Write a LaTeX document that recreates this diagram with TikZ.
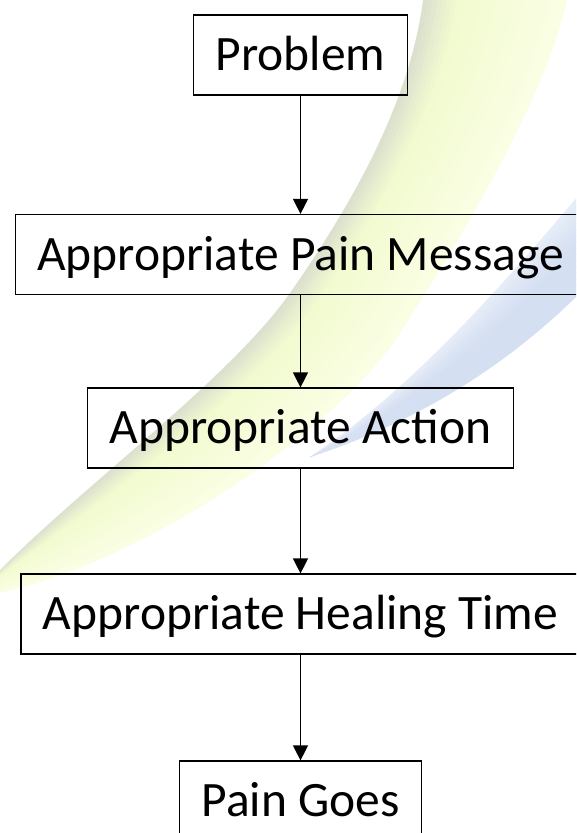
\documentclass[tikz,border=0pt]{standalone}
\usepackage{fontspec}
\setmainfont{Carlito}
\usetikzlibrary{arrows.meta,calc}

\definecolor{swishA}{RGB}{219,223,206}
\definecolor{swishB}{RGB}{241,251,207}
\definecolor{swishC}{RGB}{251,254,229}
\definecolor{bluishA}{RGB}{231,237,248}
\definecolor{bluishB}{RGB}{212,223,242}

\begin{document}
\begin{tikzpicture}[x=1pt,y=-1pt]
		\tikzstyle{Box}  = [draw, line width=1.2pt, minimum height=80pt, inner xsep=22pt, text height=31.5pt, text depth=0pt, font=\fontsize{49.5}{58}\selectfont]
		\tikzstyle{Flow} = [line width=1.2pt, -{Triangle[width=15pt,length=15pt]}]

		\useasboundingbox (0,0) rectangle (576,833);
		\clip (0,0) rectangle (576,833);

		% yellow swish, upper and lower edges
		\coordinate (u0) at (423,0);   \coordinate (l0) at (567,0);
		\coordinate (u1) at (410,100); \coordinate (l1) at (545,100);
		\coordinate (u2) at (355,200); \coordinate (l2) at (460,240);
		\coordinate (u3) at (290,293); \coordinate (l3) at (400,333);
		\coordinate (u4) at (230,378); \coordinate (l4) at (340,426);
		\coordinate (u5) at (90,480);  \coordinate (l5) at (150,560);
		\coordinate (u6) at (0,570);   \coordinate (l6) at (0,593);

		\foreach \i in {0,...,29} {
			\pgfmathsetmacro\ta{\i/30}
			\pgfmathsetmacro\tb{min(1,(\i+1.2)/30)}
			\pgfmathtruncatemacro\pa{min(100,400*(\i+0.5)/30)}
			\pgfmathtruncatemacro\pb{max(0,((\i+0.5)/30-0.25)*400/3)}
			\colorlet{mixA}{swishB!\pa!swishA}
			\colorlet{mixB}{swishC!\pb!mixA}
			\fill[mixB] ($(u0)!\ta!(l0)$) .. controls ($(u1)!\ta!(l1)$) and ($(u2)!\ta!(l2)$) .. ($(u3)!\ta!(l3)$)
				.. controls ($(u4)!\ta!(l4)$) and ($(u5)!\ta!(l5)$) .. ($(u6)!\ta!(l6)$)
				-- ($(u6)!\tb!(l6)$) .. controls ($(u5)!\tb!(l5)$) and ($(u4)!\tb!(l4)$) .. ($(u3)!\tb!(l3)$)
				.. controls ($(u2)!\tb!(l2)$) and ($(u1)!\tb!(l1)$) .. ($(u0)!\tb!(l0)$) -- cycle;
		}

		% blue swish
		\coordinate (bu0) at (590,182); \coordinate (bl0) at (590,283);
		\coordinate (bu1) at (525,258); \coordinate (bl1) at (530,345);
		\coordinate (bu2) at (425,380); \coordinate (bl2) at (440,415);
		\coordinate (bu3) at (310,457); \coordinate (bl3) at (310,457);

		\foreach \i in {0,...,15} {
			\pgfmathsetmacro\ta{\i/16}
			\pgfmathsetmacro\tb{min(1,(\i+1.2)/16)}
			\pgfmathtruncatemacro\pc{min(100,200*(\i+0.5)/16)}
			\fill[bluishB!\pc!bluishA] ($(bu0)!\ta!(bl0)$) .. controls ($(bu1)!\ta!(bl1)$) and ($(bu2)!\ta!(bl2)$) .. (bu3)
				.. controls ($(bu2)!\tb!(bl2)$) and ($(bu1)!\tb!(bl1)$) .. ($(bu0)!\tb!(bl0)$) -- cycle;
		}

		\node (s1) at (300.5,55)    [Box] {Problem};
		\node (s2) at (300.5,254.5) [Box] {Appropriate Pain Message};
		\node (s3) at (300.5,428)   [Box] {Appropriate Action};
		\node (s4) at (300.5,614)   [Box] {Appropriate Healing Time};
		\node (s5) at (300.5,801)   [Box] {Pain Goes};

		\draw (s1) to (s2) [Flow];
		\draw (s2) to (s3) [Flow];
		\draw (s3) to (s4) [Flow];
		\draw (s4) to (s5) [Flow];
	\end{tikzpicture}
\end{document}
